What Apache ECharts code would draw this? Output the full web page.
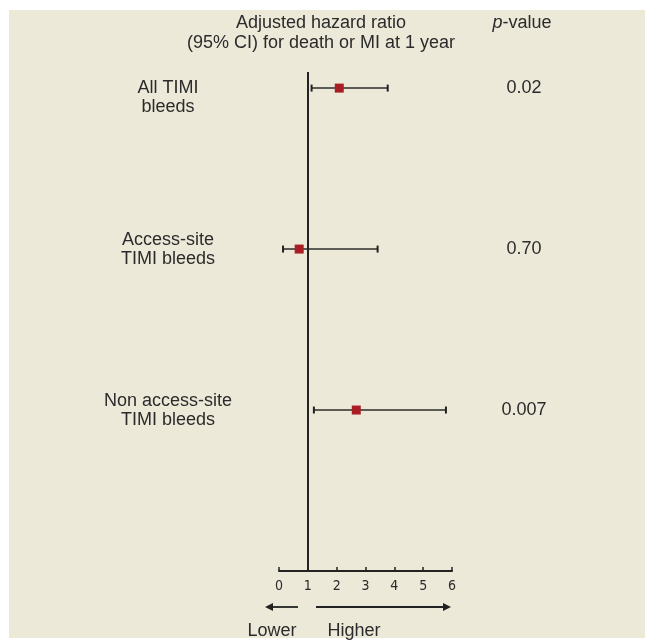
<!DOCTYPE html>
<html>
<head>
<meta charset="utf-8">
<script src="https://cdn.jsdelivr.net/npm/echarts@6/dist/echarts.min.js"></script>
<style>
html,body{margin:0;padding:0;background:#fff;}
#c{width:645px;height:641px;}
</style>
</head>
<body>
<div id="c"></div>
<script>
// ---- data ----
const rowNames = ['All TIMI\nbleeds', 'Access-site\nTIMI bleeds', 'Non access-site\nTIMI bleeds'];
const hazardRatio = [2.09, 0.70, 2.68];
const ciLower = [1.13, 0.14, 1.21];
const ciUpper = [3.77, 3.42, 5.79];
const pValues = ['0.02', '0.70', '0.007'];
const xTicks = [0, 1, 2, 3, 4, 5, 6];
const rowPos = [1, 2, 3];

const FONT = "'Liberation Sans', Arial, sans-serif";
const FS = 18;
const NARROW = "'Liberation Sans Narrow', 'DejaVu Sans Condensed', 'Liberation Sans', sans-serif";
const TXT = '#2b2b2b';

const chart = echarts.init(document.getElementById('c'), null, {renderer: 'canvas'});

const ciData = rowPos.map((r, i) => [hazardRatio[i], r, ciLower[i], ciUpper[i]]);

const option = {
  backgroundColor: '#ffffff',
  animation: false,
  grid: {left: 279, right: 193, top: 72, bottom: 70, containLabel: false},
  xAxis: {
    type: 'value', min: 0, max: 6, interval: 1,
    axisLine: {show: true, onZero: false, lineStyle: {color: '#222', width: 2}},
    axisTick: {show: true, inside: true, length: 4, lineStyle: {color: '#222', width: 1.5}},
    splitLine: {show: false},
    axisLabel: {color: TXT, fontFamily: NARROW, fontSize: 14, margin: 8,
      formatter: v => String(xTicks[Math.round(v)])}
  },
  yAxis: [{
    type: 'value', min: 0.9, max: 4.0, inverse: true, position: 'left',
    axisLine: {show: false}, axisTick: {show: false}, splitLine: {show: false},
    axisLabel: {
      customValues: rowPos,
      align: 'center', margin: 111, color: TXT, fontFamily: FONT, fontSize: FS, lineHeight: 19,
      formatter: v => {
        const i = Math.round(v) - 1;
        return (i === 0 ? '\n' : '') + rowNames[i];
      }
    }
  }, {
    type: 'value', min: 0.9, max: 4.0, inverse: true, position: 'right',
    axisLine: {show: false}, axisTick: {show: false}, splitLine: {show: false},
    axisLabel: {
      customValues: rowPos,
      align: 'center', margin: 72, color: TXT, fontFamily: FONT, fontSize: FS,
      formatter: v => pValues[Math.round(v) - 1]
    }
  }],
  graphic: [
    {type: 'rect', z: -10, shape: {x: 9, y: 10, width: 636, height: 628}, style: {fill: '#ECE9D9'}},
    {type: 'text', style: {x: 321, y: 23, text: 'Adjusted hazard ratio', font: FS + 'px ' + FONT, fill: TXT, align: 'center', verticalAlign: 'middle'}},
    {type: 'text', style: {x: 321, y: 43, text: '(95% CI) for death or MI at 1 year', font: FS + 'px ' + FONT, fill: TXT, align: 'center', verticalAlign: 'middle'}},
    {type: 'text', style: {x: 522, y: 23, text: '{i|p}-value', font: FS + 'px ' + FONT, fill: TXT, align: 'center', verticalAlign: 'middle',
      rich: {i: {fontStyle: 'italic', fontSize: FS, fontFamily: FONT, fill: TXT}}}},
    // direction arrows
    {type: 'line', shape: {x1: 298, y1: 607, x2: 270, y2: 607}, style: {stroke: '#222', lineWidth: 1.8}},
    {type: 'polygon', shape: {points: [[265, 607], [273, 603], [273, 611]]}, style: {fill: '#222'}},
    {type: 'line', shape: {x1: 316, y1: 607, x2: 445, y2: 607}, style: {stroke: '#222', lineWidth: 1.8}},
    {type: 'polygon', shape: {points: [[451, 607], [443, 603], [443, 611]]}, style: {fill: '#222'}},
    {type: 'text', style: {x: 272, y: 631, text: 'Lower', font: FS + 'px ' + FONT, fill: TXT, align: 'center', verticalAlign: 'middle'}},
    {type: 'text', style: {x: 354, y: 631, text: 'Higher', font: FS + 'px ' + FONT, fill: TXT, align: 'center', verticalAlign: 'middle'}}
  ],
  series: [{
    type: 'custom',
    xAxisIndex: 0, yAxisIndex: 0,
    data: ciData,
    encode: {x: [0, 2, 3], y: 1},
    renderItem: (params, api) => {
      const y = api.value(1);
      const c = api.coord([api.value(0), y]);
      const lo = api.coord([api.value(2), y]);
      const hi = api.coord([api.value(3), y]);
      const capH = 3.5, sq = 9;
      return {
        type: 'group',
        children: [
          {type: 'line', shape: {x1: lo[0], y1: lo[1], x2: hi[0], y2: hi[1]}, style: {stroke: '#5c5b55', lineWidth: 2}},
          {type: 'line', shape: {x1: lo[0], y1: lo[1] - capH, x2: lo[0], y2: lo[1] + capH}, style: {stroke: '#222', lineWidth: 2}},
          {type: 'line', shape: {x1: hi[0], y1: hi[1] - capH, x2: hi[0], y2: hi[1] + capH}, style: {stroke: '#222', lineWidth: 2}},
          {type: 'rect', shape: {x: c[0] - sq / 2, y: c[1] - sq / 2, width: sq, height: sq}, style: {fill: '#A81E23'}}
        ]
      };
    },
    markLine: {
      silent: true, symbol: 'none', label: {show: false},
      lineStyle: {color: '#222', width: 2, type: 'solid'},
      data: [{xAxis: 1}]
    },
    z: 3
  }]
};
chart.setOption(option);
</script>
</body>
</html>
